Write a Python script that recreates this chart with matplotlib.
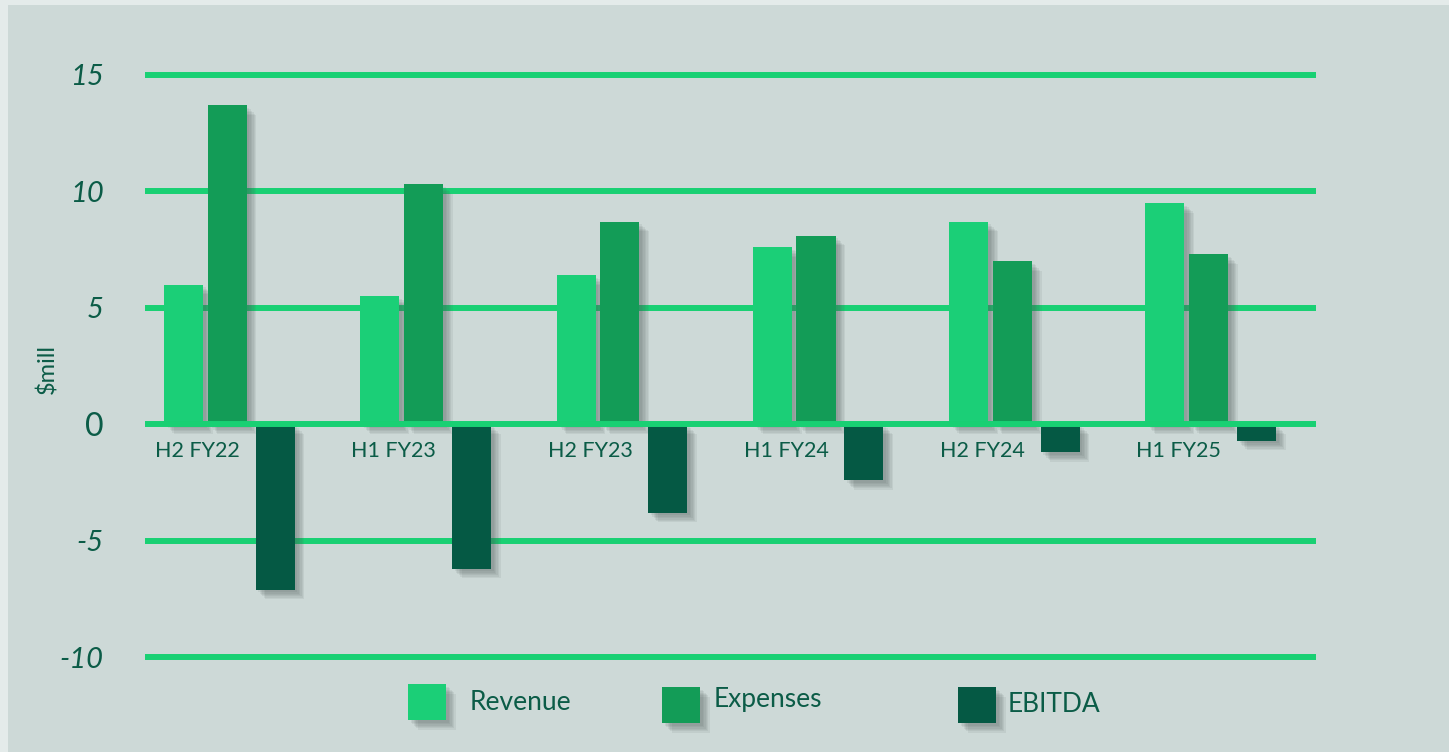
import matplotlib
matplotlib.use("Agg")
import numpy as np
import matplotlib.pyplot as plt
import matplotlib.patheffects as pe
from matplotlib.patches import Rectangle

# data ($ million)
periods = ["H2 FY22", "H1 FY23", "H2 FY23", "H1 FY24", "H2 FY24", "H1 FY25"]
revenue = [6.0, 5.5, 6.4, 7.6, 8.7, 9.5]
expenses = [13.7, 10.3, 8.7, 8.1, 7.0, 7.3]
ebitda = [-7.1, -6.2, -3.8, -2.4, -1.2, -0.7]
yticks = [15, 10, 5, 0, -5, -10]

c_rev = "#1bcf77"
c_exp = "#139c57"
c_ebit = "#055944"
c_grid = "#19d073"
c_text = "#0b5c47"
c_bg = "#cdd9d7"

plt.rcParams['font.family'] = ['Lato', 'DejaVu Sans']

fig = plt.figure(figsize=(14.49, 7.52), dpi=100)
fig.patch.set_facecolor("#e4ebea")
# inner panel
fig.add_artist(Rectangle((8 / 1449, 0), 1 - 8 / 1449, 1 - 5 / 752,
                         transform=fig.transFigure, facecolor=c_bg,
                         edgecolor="none", zorder=0))

ax = fig.add_axes([145 / 1449, (752 - 664) / 752, (1316 - 145) / 1449, (664 - 68) / 752])
ax.set_facecolor("none")
for s in ax.spines.values():
    s.set_visible(False)

# soft drop shadow: several faint offset copies
shadow = [pe.SimplePatchShadow(offset=(d, -d), shadow_rgbFace="#4d5957", alpha=0.09)
          for d in (7, 6, 5, 4, 3, 2)] + [pe.Normal()]

x = np.arange(len(periods))
w = 0.199
for vals, off, col in [(revenue, 0.0, c_rev), (expenses, 0.222, c_exp), (ebitda, 0.466, c_ebit)]:
    bars = ax.bar(x + off, vals, width=w, align="edge", color=col, zorder=3)
    for b in bars:
        b.set_path_effects(shadow)

for t in yticks:
    ax.axhline(t, color=c_grid, lw=4.3, zorder=5 if t == 0 else 1, solid_capstyle="butt")

ax.set_xlim(-0.097, 5.869)
ax.set_ylim(-10.3, 15.3)
ax.set_xticks([])
ax.set_yticks(yticks)
ax.set_yticklabels([str(t) for t in yticks])
ax.tick_params(axis="y", length=0, pad=30, labelsize=21, labelcolor=c_text)
for lab in ax.get_yticklabels():
    if lab.get_text() == "0":
        lab.set_fontsize(23)
    else:
        lab.set_style("italic")

for i, p in enumerate(periods):
    ax.text(i + 0.17, -0.72, p, ha="center", va="top", fontsize=15.5, color=c_text, zorder=6)

fig.text(47 / 1449, 1 - 369 / 752, "$mill", rotation=90, ha="center", va="center",
         fontsize=17, color=c_text)

# legend
for lx, ly, tx, ty, col, name in [(408, 684, 470, 702, c_rev, "Revenue"),
                                  (662, 687, 714, 700, c_exp, "Expenses"),
                                  (958, 687, 1008, 704, c_ebit, "EBITDA")]:
    r = Rectangle((lx / 1449, 1 - (ly + 36) / 752), 38 / 1449, 36 / 752,
                  transform=fig.transFigure, facecolor=col, edgecolor="none", zorder=3)
    r.set_path_effects(shadow)
    fig.add_artist(r)
    fig.text(tx / 1449, 1 - ty / 752, name, ha="left", va="center", fontsize=19, color=c_text)

fig.savefig("out.png", dpi=100, facecolor=fig.get_facecolor())
